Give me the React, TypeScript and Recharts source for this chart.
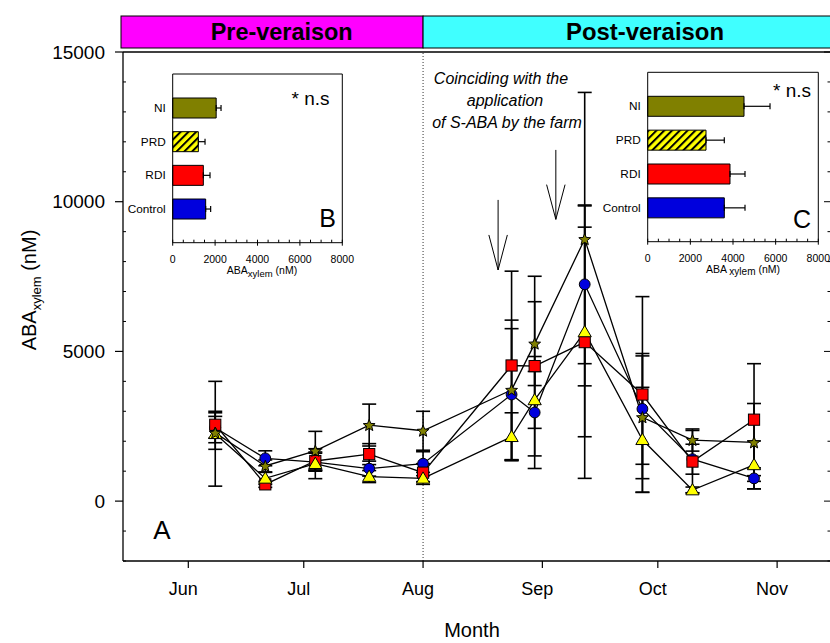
import React from 'react';
import {
  ComposedChart,
  Line,
  ErrorBar,
  XAxis,
  YAxis,
  ReferenceLine,
  BarChart,
  Bar,
  Cell,
} from 'recharts';

const FONT = '"Liberation Sans", Arial, Helvetica, sans-serif';

// ---- Seasonal course (panel A) ----
// Sampling dates as day of year
const SAMPLE_DAYS = [159, 172, 185, 199, 213, 236, 242, 255, 270, 283, 299];
const CONTROL = [2450, 1430, 1300, 1085, 1250, 3560, 2960, 7240, 3080, 1400, 760];
const CONTROL_SE = [500, 250, 300, 250, 400, 2200, 1870, 2650, 1850, 500, 350];
const RDI = [2550, 560, 1340, 1570, 950, 4530, 4510, 5310, 3560, 1320, 2720];
const RDI_SE = [450, 100, 300, 350, 300, 3150, 3000, 4550, 3270, 1040, 1870];
const PRD = [2250, 760, 1250, 820, 760, 2150, 3380, 5650, 2050, 370, 1210];
const PRD_SE = [1750, 200, 500, 200, 200, 800, 950, 3500, 1750, 100, 800];
const NI = [2280, 1175, 1680, 2540, 2350, 3715, 5260, 8750, 2800, 2040, 1960];
const NI_SE = [550, 200, 650, 700, 650, 2330, 1400, 4900, 2050, 370, 1300];

const MONTH_DAYS = [152, 182, 213, 244, 274, 305];
const MONTH_LABELS = ['Jun', 'Jul', 'Aug', 'Sep', 'Oct', 'Nov'];
const Y_TICKS = [
  -2000, -1000, 0, 1000, 2000, 3000, 4000, 5000, 6000, 7000, 8000, 9000, 10000,
  11000, 12000, 13000, 14000, 15000,
];
const X_DOMAIN = [135.03, 319];
const Y_DOMAIN = [-2000, 15000];
const VERAISON_DAY = 213;

// S-ABA application arrows: day, tail value, tip value
const ARROW_DAYS = [232.5, 247.5];
const ARROW_TAIL = [10060, 11730];
const ARROW_TIP = [7720, 9410];

// ---- Treatment means (panels B and C) ----
const TREATMENTS = ['NI', 'PRD', 'RDI', 'Control'];
const PRE_MEAN = [2050, 1210, 1445, 1555];
const PRE_SE = [230, 315, 315, 235];
const POST_MEAN = [4516, 2734, 3859, 3593];
const POST_SE = [1220, 858, 704, 970];
const INSET_TICKS = [
  0, 500, 1000, 1500, 2000, 2500, 3000, 3500, 4000, 4500, 5000, 5500, 6000,
  6500, 7000, 7500, 8000,
];

const COLORS = {
  control: '#0000dd',
  rdi: '#ff0000',
  prd: '#ffff00',
  ni: '#808000',
};
const TREATMENT_FILLS = [COLORS.ni, 'url(#prdHatch)', COLORS.rdi, COLORS.control];

// ---- layout ----
const PAGE_W = 830;
const PAGE_H = 643;
const MAIN_W = 840;
const PLOT = { left: 123, top: 52, right: 831, bottom: 561 };
// every axis keeps a 1px band outside the plot rectangle
const AX = 1;

const xPx = (day: number) =>
  PLOT.left + ((day - X_DOMAIN[0]) / (X_DOMAIN[1] - X_DOMAIN[0])) * (PLOT.right - PLOT.left);

const rows = SAMPLE_DAYS.map((day, i) => ({
  day,
  control: CONTROL[i],
  controlErr: CONTROL_SE[i],
  rdi: RDI[i],
  rdiErr: RDI_SE[i],
  prd: PRD[i],
  prdErr: PRD_SE[i],
  ni: NI[i],
  niErr: NI_SE[i],
}));

// ---- markers ----
const CircleDot = (p: any) =>
  p.cx == null ? null : (
    <circle key={`c${p.index}`} cx={p.cx} cy={p.cy} r={5.4} fill={COLORS.control} stroke="#000" strokeWidth={1} />
  );
const SquareDot = (p: any) =>
  p.cx == null ? null : (
    <rect key={`s${p.index}`} x={p.cx - 5.6} y={p.cy - 5.6} width={11.2} height={11.2} fill={COLORS.rdi} stroke="#000" strokeWidth={1} />
  );
const TriangleDot = (p: any) =>
  p.cx == null ? null : (
    <polygon
      key={`t${p.index}`}
      points={`${p.cx},${p.cy - 6.5} ${p.cx - 6.6},${p.cy + 4.8} ${p.cx + 6.6},${p.cy + 4.8}`}
      fill={COLORS.prd}
      stroke="#000"
      strokeWidth={1}
    />
  );
const starPoints = (cx: number, cy: number, R: number, r: number) => {
  const pts: string[] = [];
  for (let k = 0; k < 10; k++) {
    const a = -Math.PI / 2 + (k * Math.PI) / 5;
    const rad = k % 2 === 0 ? R : r;
    pts.push(`${cx + rad * Math.cos(a)},${cy + rad * Math.sin(a)}`);
  }
  return pts.join(' ');
};
const StarDot = (p: any) =>
  p.cx == null ? null : (
    <polygon key={`n${p.index}`} points={starPoints(p.cx, p.cy + 0.5, 6.2, 2.7)} fill={COLORS.ni} stroke="#000" strokeWidth={1} />
  );

// ---- axis ticks ----
const LeftTick = (p: any) => {
  const v = p.payload.value;
  const major = v % 5000 === 0;
  return (
    <g>
      {major ? (
        <line x1={p.x - 8} x2={p.x} y1={p.y} y2={p.y} stroke="#000" strokeWidth={1.2} />
      ) : (
        <line x1={p.x} x2={p.x + 3} y1={p.y} y2={p.y} stroke="#000" strokeWidth={1} />
      )}
      {major && (
        <text x={p.x - 18} y={p.y} dy={6.6} textAnchor="end" fontSize={19} fontFamily={FONT} fill="#000">
          {v}
        </text>
      )}
    </g>
  );
};
const RightTick = (p: any) => {
  const v = p.payload.value;
  const major = v % 5000 === 0;
  return <line x1={p.x - (major ? 7 : 3.5)} x2={p.x} y1={p.y} y2={p.y} stroke="#000" strokeWidth={1} />;
};
const MonthTick = (p: any) => {
  const i = MONTH_DAYS.indexOf(p.payload.value);
  return (
    <g>
      <line x1={p.x} x2={p.x} y1={p.y} y2={p.y + 7} stroke="#000" strokeWidth={1.2} />
      <text x={p.x - 5} y={p.y + 34} textAnchor="middle" fontSize={18} fontFamily={FONT} fill="#000">
        {MONTH_LABELS[i]}
      </text>
    </g>
  );
};

const InsetBottomTick = (p: any) => {
  const v = p.payload.value;
  const major = v % 2000 === 0;
  return (
    <g>
      <line x1={p.x} x2={p.x} y1={p.y - 3} y2={major ? p.y + 3 : p.y} stroke="#000" strokeWidth={1} />
      {major && (
        <text x={p.x} y={p.y + 20} textAnchor="middle" fontSize={10.5} fontFamily={FONT} fill="#000">
          {v}
        </text>
      )}
    </g>
  );
};
const InsetTopTick = (p: any) => {
  const v = p.payload.value;
  const major = v % 2000 === 0;
  return <line x1={p.x} x2={p.x} y1={major ? p.y - 3 : p.y} y2={p.y + 3} stroke="#000" strokeWidth={1} />;
};
const CategoryTick = (p: any) => (
  <text x={p.x - 7} y={p.y} dy={4} textAnchor="end" fontSize={11.8} fontFamily={FONT} fill="#000">
    {p.payload.value}
  </text>
);

type Frame = { left: number; top: number; right: number; bottom: number };

function TreatmentInset({ means, errs, frame }: { means: number[]; errs: number[]; frame: Frame }) {
  const data = TREATMENTS.map((name, i) => ({ name, value: means[i], err: [0, errs[i]] }));
  return (
    <div style={{ position: 'absolute', left: 0, top: 0 }}>
      <BarChart
        layout="vertical"
        width={PAGE_W}
        height={PAGE_H}
        data={data}
        margin={{
          left: frame.left - AX,
          top: frame.top - AX,
          right: PAGE_W - frame.right - AX,
          bottom: PAGE_H - frame.bottom - AX,
        }}
      >
        <XAxis
          type="number"
          domain={[0, 8000]}
          ticks={INSET_TICKS}
          interval={0}
          height={AX}
          tickSize={0}
          tickMargin={0}
          tickLine={false}
          tick={InsetBottomTick}
          axisLine={{ stroke: '#000', strokeWidth: 1 }}
        />
        <XAxis
          xAxisId="top"
          orientation="top"
          type="number"
          domain={[0, 8000]}
          ticks={INSET_TICKS}
          interval={0}
          height={AX}
          tickSize={0}
          tickMargin={0}
          tickLine={false}
          tick={InsetTopTick}
          axisLine={{ stroke: '#000', strokeWidth: 1 }}
        />
        <YAxis
          type="category"
          dataKey="name"
          width={AX}
          tickSize={0}
          tickMargin={0}
          tickLine={false}
          tick={CategoryTick}
          padding={{ top: 17, bottom: 17 }}
          axisLine={{ stroke: '#000', strokeWidth: 1 }}
        />
        <YAxis
          yAxisId="right"
          orientation="right"
          type="category"
          dataKey="name"
          width={AX}
          tick={false}
          tickLine={false}
          padding={{ top: 17, bottom: 17 }}
          axisLine={{ stroke: '#000', strokeWidth: 1 }}
        />
        <Bar dataKey="value" barSize={20} stroke="#000" strokeWidth={1} isAnimationActive={false}>
          {data.map((d, i) => (
            <Cell key={d.name} fill={TREATMENT_FILLS[i]} />
          ))}
          <ErrorBar dataKey="err" direction="x" width={3} stroke="#000" strokeWidth={1.2} />
        </Bar>
      </BarChart>
    </div>
  );
}

const INSET_B: Frame = { left: 172.7, top: 74, right: 342.3, bottom: 242.7 };
const INSET_C: Frame = { left: 647.7, top: 72.3, right: 818.3, bottom: 241.7 };

export default function App() {
  const veraisonX = xPx(VERAISON_DAY);
  return (
    <div
      style={{
        position: 'absolute',
        left: 0,
        top: 0,
        width: PAGE_W,
        height: PAGE_H,
        overflow: 'hidden',
        background: '#fff',
        fontFamily: FONT,
      }}
    >
      <svg width={0} height={0} style={{ position: 'absolute' }}>
        <defs>
          <pattern id="prdHatch" patternUnits="userSpaceOnUse" width={5.5} height={5.5} patternTransform="rotate(45)">
            <rect width={5.5} height={5.5} fill={COLORS.prd} />
            <rect width={2} height={5.5} fill="#000" />
          </pattern>
        </defs>
      </svg>

      <div style={{ position: 'absolute', left: 0, top: 0 }}>
        <ComposedChart
          width={MAIN_W}
          height={PAGE_H}
          data={rows}
          margin={{
            top: PLOT.top - AX,
            right: MAIN_W - PLOT.right - AX,
            bottom: PAGE_H - PLOT.bottom - AX,
            left: PLOT.left - AX,
          }}
        >
          <XAxis
            dataKey="day"
            type="number"
            domain={X_DOMAIN}
            allowDataOverflow
            ticks={MONTH_DAYS}
            interval={0}
            height={AX}
            tickSize={0}
            tickMargin={0}
            tickLine={false}
            tick={MonthTick}
            axisLine={{ stroke: '#000', strokeWidth: 1.3 }}
          />
          <XAxis
            xAxisId="top"
            orientation="top"
            type="number"
            domain={X_DOMAIN}
            allowDataOverflow
            height={AX}
            tick={false}
            tickLine={false}
            axisLine={{ stroke: '#000', strokeWidth: 1.3 }}
          />
          <YAxis
            type="number"
            domain={Y_DOMAIN}
            allowDataOverflow
            ticks={Y_TICKS}
            interval={0}
            width={AX}
            tickSize={0}
            tickMargin={0}
            tickLine={false}
            tick={LeftTick}
            axisLine={{ stroke: '#000', strokeWidth: 1.3 }}
          />
          <YAxis
            yAxisId="right"
            orientation="right"
            type="number"
            domain={Y_DOMAIN}
            allowDataOverflow
            ticks={Y_TICKS}
            interval={0}
            width={AX}
            tickSize={0}
            tickMargin={0}
            tickLine={false}
            tick={RightTick}
            axisLine={{ stroke: '#000', strokeWidth: 1.3 }}
          />

          <ReferenceLine x={VERAISON_DAY} stroke="#333" strokeWidth={1} strokeDasharray="1 2" />

          {ARROW_DAYS.map((d, i) => {
            const wingY = (ARROW_TAIL[i] + ARROW_TIP[i]) / 2;
            return (
              <React.Fragment key={`arrow${i}`}>
                <ReferenceLine segment={[{ x: d, y: ARROW_TAIL[i] }, { x: d, y: ARROW_TIP[i] }]} stroke="#000" strokeWidth={1} />
                <ReferenceLine segment={[{ x: d - 2.4, y: wingY }, { x: d, y: ARROW_TIP[i] }]} stroke="#000" strokeWidth={1} />
                <ReferenceLine segment={[{ x: d + 2.4, y: wingY }, { x: d, y: ARROW_TIP[i] }]} stroke="#000" strokeWidth={1} />
              </React.Fragment>
            );
          })}

          <Line dataKey="control" type="linear" stroke="#000" strokeWidth={1.3} dot={CircleDot} activeDot={false} isAnimationActive={false}>
            <ErrorBar dataKey="controlErr" width={7} stroke="#000" strokeWidth={1.6} />
          </Line>
          <Line dataKey="rdi" type="linear" stroke="#000" strokeWidth={1.3} dot={SquareDot} activeDot={false} isAnimationActive={false}>
            <ErrorBar dataKey="rdiErr" width={7} stroke="#000" strokeWidth={1.6} />
          </Line>
          <Line dataKey="prd" type="linear" stroke="#000" strokeWidth={1.3} dot={TriangleDot} activeDot={false} isAnimationActive={false}>
            <ErrorBar dataKey="prdErr" width={7} stroke="#000" strokeWidth={1.6} />
          </Line>
          <Line dataKey="ni" type="linear" stroke="#000" strokeWidth={1.3} dot={StarDot} activeDot={false} isAnimationActive={false}>
            <ErrorBar dataKey="niErr" width={7} stroke="#000" strokeWidth={1.6} />
          </Line>
        </ComposedChart>
      </div>

      <TreatmentInset means={PRE_MEAN} errs={PRE_SE} frame={INSET_B} />
      <TreatmentInset means={POST_MEAN} errs={POST_SE} frame={INSET_C} />

      <svg width={PAGE_W} height={PAGE_H} style={{ position: 'absolute', left: 0, top: 0, pointerEvents: 'none' }} fontFamily={FONT}>
        {/* phenological stage header */}
        <rect x={121} y={16} width={veraisonX - 121} height={32} fill="#ff00ff" stroke="#000" strokeWidth={1} />
        <rect x={veraisonX} y={16} width={PAGE_W + 10 - veraisonX} height={32} fill="#40ffff" stroke="#000" strokeWidth={1} />
        <text x={281.7} y={40} textAnchor="middle" fontSize={24} fontWeight="bold" textLength={142} lengthAdjust="spacingAndGlyphs" fill="#000">
          Pre-veraison
        </text>
        <text x={645} y={40} textAnchor="middle" fontSize={24} fontWeight="bold" textLength={158} lengthAdjust="spacingAndGlyphs" fill="#000">
          Post-veraison
        </text>

        {/* application note */}
        <g fontStyle="italic" fontSize={16} textAnchor="middle" fill="#000">
          <text x={501} y={83.5}>Coinciding with the</text>
          <text x={505} y={105.5}>application</text>
          <text x={507} y={127.5}>of S-ABA by the farm</text>
        </g>

        {/* panel letters and significance notes */}
        <text x={162} y={539} textAnchor="middle" fontSize={26} fill="#000">A</text>
        <text x={336} y={227} textAnchor="end" fontSize={25} fill="#000">B</text>
        <text x={811} y={228} textAnchor="end" fontSize={25} fill="#000">C</text>
        <text x={329.5} y={105} textAnchor="end" fontSize={19} fill="#000">* n.s</text>
        <text x={811} y={97} textAnchor="end" fontSize={19} fill="#000">* n.s</text>

        {/* inset axis titles */}
        <text x={262} y={274} textAnchor="middle" fontSize={10.5} fill="#000">
          ABA<tspan fontSize={9.5} dy={3}>xylem</tspan>
          <tspan dy={-3}> (nM)</tspan>
        </text>
        <text x={743} y={273} textAnchor="middle" fontSize={10.5} fill="#000">
          ABA <tspan fontSize={10} dy={2}>xylem</tspan>
          <tspan dy={-2}> (nM)</tspan>
        </text>

        {/* main axis titles */}
        <text transform="translate(36,290) rotate(-90)" textAnchor="middle" fontSize={20} fill="#000">
          ABA<tspan fontSize={13} dy={5}>xylem</tspan>
          <tspan dy={-5}> (nM)</tspan>
        </text>
        <text x={472} y={637} textAnchor="middle" fontSize={20} fill="#000">Month</text>
      </svg>
    </div>
  );
}
